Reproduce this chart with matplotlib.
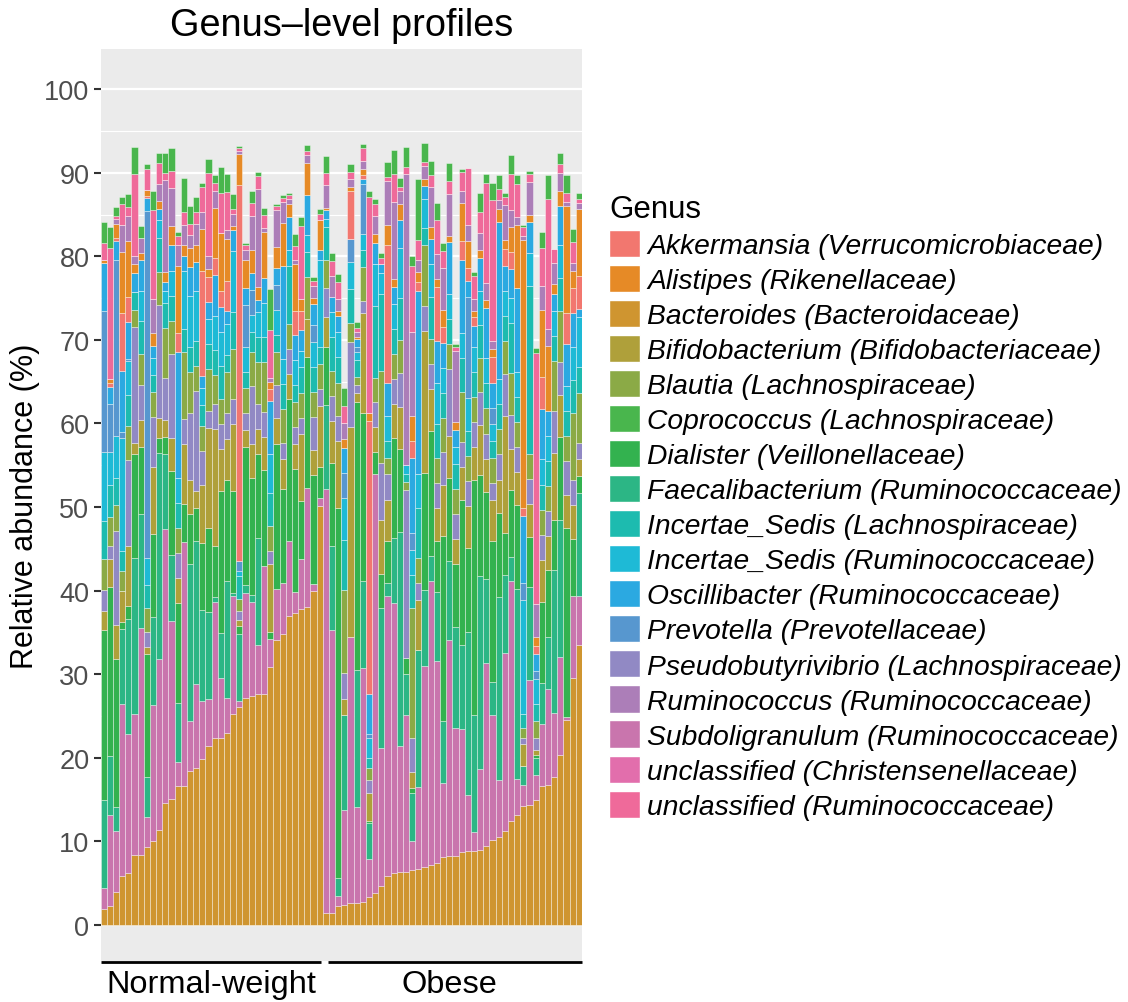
import matplotlib
matplotlib.use("Agg")
import matplotlib.pyplot as plt
from matplotlib.patches import Patch
from matplotlib.transforms import blended_transform_factory
import numpy as np

plt.rcParams['font.family'] = ['Liberation Sans', 'DejaVu Sans']

# ---------------- data (relative abundance, %) ----------------
group_names = ["Normal-weight", "Obese"]
n_normal = 36
n_obese = 42

bacteroides = [1.9, 2.3, 3.9, 5.9, 6.2, 8.4, 8.4, 9.3, 10.0, 11.4, 14.6, 15.1, 16.6, 16.6, 18.4, 18.8, 19.9, 21.4, 22.4, 22.4, 23.0, 25.2, 26.1, 27.2, 27.4, 27.6, 27.6, 30.9, 34.1, 34.8, 37.0, 37.3, 37.8, 38.1, 40.0, 50.1,
               1.5, 1.5, 2.3, 2.4, 2.6, 2.6, 2.8, 3.3, 3.8, 4.7, 5.9, 6.2, 6.3, 6.3, 6.6, 6.7, 7.0, 7.2, 7.4, 8.1, 8.3, 8.3, 8.7, 8.8, 8.9, 9.0, 9.4, 10.2, 10.5, 11.2, 12.5, 13.2, 14.3, 14.4, 15.0, 16.6, 16.7, 17.7, 20.3, 24.5, 29.6, 33.5]
subdoligranulum = [2.5, 10.9, 7.4, 20.6, 16.6, 16.8, 27.1, 3.6, 16.3, 20.4, 32.8, 21.3, 2.9, 29.2, 6.0, 10.0, 6.9, 5.6, 16.3, 7.1, 4.2, 14.2, 0.7, 12.5, 11.2, 5.9, 15.4, 3.3, 6.1, 6.1, 8.9, 2.6, 6.0, 14.2, 0.8, 1.0,
                   50.7, 33.8, 1.2, 11.4, 31.8, 11.5, 27.9, 4.6, 50.1, 16.5, 33.5, 32.3, 15.1, 18.8, 3.5, 9.8, 24.0, 34.0, 24.2, 8.9, 25.8, 15.3, 14.8, 6.8, 2.2, 9.7, 22.0, 14.9, 6.9, 21.3, 28.7, 4.3, 2.4, 14.9, 2.9, 7.4, 11.5, 7.7, 11.8, 0.4, 9.8, 5.9]
faecalibacterium = [10.6, 7.0, 2.8, 8.9, 13.8, 18.7, 13.7, 4.8, 10.5, 24.7, 9.0, 7.9, 7.1, 0, 18.8, 17.1, 10.9, 10.5, 0.6, 5.4, 14.0, 0.3, 8.0, 1.0, 0.9, 12.8, 0, 0, 0, 0, 0, 0, 0, 0, 0, 0,
                    10.0, 10.0, 2.1, 11.3, 0, 16.4, 10.5, 4.3, 0, 16.7, 1.5, 7.8, 25.6, 4.9, 5.7, 16.4, 9.1, 2.9, 8.3, 7.4, 9.4, 12.0, 10.0, 19.5, 14.0, 23.1, 10.0, 4.0, 21.9, 9.4, 2.8, 22.7, 2.3, 11.1, 2.1, 5.0, 6.3, 17.1, 16.3, 0, 0, 12.3]
dialister = [20.3, 20.2, 17.7, 0.9, 1.6, 12.4, 8.0, 14.7, 10.0, 1.8, 2.0, 10.0, 11.9, 4.6, 6.0, 4.0, 8.0, 10.0, 6.0, 17.0, 12.0, 12.2, 1.0, 16.5, 14.0, 10.0, 11.4, 0.8, 17.4, 11.3, 17.0, 14.7, 6.9, 15.6, 13.0, 3.7,
             7.0, 10.0, 44.3, 0, 0.1, 32.1, 20.0, 0.2, 2.7, 4.1, 5.0, 12.0, 10.0, 2.0, 0.6, 0, 14.0, 15.0, 6.0, 22.2, 10.0, 7.6, 17.3, 10.0, 28.1, 12.0, 10.4, 16.8, 10.0, 5.0, 8.0, 10.0, 0, 6.0, 0.3, 9.7, 8.0, 6.0, 10.0, 22.6, 6.8, 2.0]
bifidobacterium = [2.3, 3.4, 4.1, 3.7, 7.1, 1.4, 3.2, 0.9, 8.0, 2.3, 2.0, 4.0, 3.0, 7.1, 4.0, 2.0, 7.0, 12.0, 14.0, 5.0, 5.0, 8.0, 0.7, 2.0, 4.0, 3.0, 4.0, 8.2, 3.0, 3.5, 3.0, 3.0, 8.0, 4.6, 3.0, 7.3,
                   3.5, 5.0, 8.0, 2.0, 25.1, 1.0, 12.0, 3.4, 3.0, 6.4, 5.0, 4.0, 5.0, 0, 1.9, 6.0, 17.0, 5.0, 4.0, 6.0, 5.0, 3.0, 4.0, 5.0, 4.0, 6.0, 4.0, 5.0, 4.0, 14.0, 5.0, 4.0, 2.6, 4.0, 0.7, 5.0, 4.0, 8.0, 5.0, 4.0, 4.0, 2.0]
pseudobutyrivibrio = [2.5, 1.6, 11.2, 0, 10.3, 13.8, 4.2, 1.8, 6.0, 13.6, 5.0, 10.0, 3.0, 3.0, 8.0, 12.0, 4.0, 2.0, 3.0, 3.0, 3.0, 3.0, 1.1, 2.0, 7.0, 3.0, 3.0, 1.5, 4.0, 2.0, 3.0, 2.0, 2.0, 0, 4.0, 2.0,
                      3.5, 3.0, 3.0, 3.0, 10.1, 1.0, 1.5, 1.6, 3.0, 6.9, 3.0, 3.0, 4.0, 20.0, 4.1, 2.0, 3.0, 3.0, 3.0, 4.0, 8.0, 3.0, 3.0, 3.0, 3.0, 4.0, 3.0, 2.0, 3.0, 5.0, 4.0, 3.0, 0.8, 3.0, 1.4, 3.0, 3.0, 5.0, 4.0, 4.0, 3.0, 2.0]
blautia = [3.7, 3.4, 3.2, 2.3, 4.1, 2.1, 3.7, 2.8, 3.0, 3.9, 6.0, 4.0, 3.0, 8.0, 5.0, 3.0, 3.0, 5.0, 3.5, 3.0, 5.0, 6.0, 1.4, 3.0, 4.0, 5.0, 6.0, 3.0, 4.0, 4.0, 3.0, 3.0, 3.0, 5.0, 3.0, 3.0,
           3.4, 3.0, 4.0, 10.0, 2.3, 1.0, 4.0, 1.4, 2.8, 11.0, 2.0, 3.0, 4.0, 1.0, 15.5, 3.0, 7.3, 3.0, 3.0, 4.0, 3.0, 3.0, 6.0, 3.0, 3.0, 4.0, 3.0, 3.0, 3.0, 4.0, 5.0, 3.0, 1.2, 3.0, 2.0, 3.0, 3.0, 6.0, 6.0, 3.0, 8.0, 6.0]
incertae_lachno = [4.5, 3.9, 3.2, 2.5, 3.7, 2.1, 4.0, 2.8, 2.0, 4.1, 3.0, 3.0, 3.0, 2.8, 3.0, 3.0, 2.5, 3.0, 3.0, 4.0, 2.0, 4.4, 2.7, 2.0, 2.5, 3.0, 3.0, 4.0, 2.0, 3.0, 6.9, 2.0, 3.0, 3.0, 3.0, 2.0,
                   3.9, 4.0, 3.0, 6.0, 4.1, 2.0, 2.0, 1.2, 8.7, 9.2, 2.0, 3.0, 5.0, 1.0, 4.0, 6.0, 2.0, 5.0, 4.0, 3.0, 3.0, 3.0, 4.0, 3.0, 3.0, 4.0, 3.0, 2.0, 3.0, 3.0, 6.0, 3.0, 1.7, 20.0, 2.0, 3.0, 3.0, 3.0, 4.0, 3.0, 4.0, 3.0]
incertae_rumino = [8.3, 3.9, 5.0, 13.5, 4.1, 0, 3.5, 3.2, 2.0, 2.1, 1.5, 3.0, 3.0, 6.9, 6.0, 6.0, 2.0, 3.0, 4.0, 4.0, 3.7, 7.3, 0.7, 3.0, 2.0, 3.0, 4.0, 4.6, 3.0, 3.0, 2.0, 3.0, 2.0, 2.0, 3.0, 10.5,
                   1.0, 3.0, 3.0, 5.0, 3.2, 1.0, 2.0, 2.4, 5.0, 2.5, 3.0, 3.0, 6.0, 1.0, 3.0, 4.0, 3.5, 4.0, 5.0, 3.0, 3.0, 2.0, 3.0, 4.0, 3.0, 4.0, 3.0, 2.0, 3.0, 3.0, 3.0, 3.0, 13.6, 4.0, 3.0, 3.0, 3.0, 3.0, 4.0, 3.0, 4.0, 6.0]
prevotella = [16.8, 5.7, 21.1, 0.7, 0.2, 0, 0, 41.5, 0, 0, 0, 0, 0, 0, 0, 0, 0, 0, 0, 0, 0, 0, 1.1, 5.0, 3.0, 0, 0, 0, 3.0, 0, 0, 0, 0, 0, 2.0, 0,
              0, 0, 0, 3.0, 2.8, 0.5, 6.0, 0.4, 0, 0, 0, 0, 0, 0, 2.0, 0, 0, 0, 0, 0, 0, 0, 0, 12.0, 0, 0, 0, 2.0, 0, 0, 0, 0, 2.0, 0, 1.0, 0, 0, 0, 0, 0, 0, 0]
oscillibacter = [5.8, 2.1, 2.2, 7.3, 4.4, 2.3, 3.7, 1.6, 1.5, 1.4, 1.0, 3.0, 15.0, 1.8, 3.5, 3.4, 1.5, 2.0, 5.0, 3.0, 1.5, 2.5, 0, 2.0, 2.0, 1.5, 3.0, 6.4, 2.0, 11.2, 3.9, 3.0, 2.5, 4.8, 2.5, 1.1,
                 1.0, 1.8, 2.0, 3.0, 0, 1.0, 0.5, 4.9, 2.5, 1.1, 4.0, 2.0, 3.4, 0, 9.0, 22.0, 1.5, 3.0, 5.0, 3.0, 6.2, 2.0, 8.7, 2.0, 2.5, 4.0, 6.0, 3.0, 18.8, 3.0, 3.5, 10.0, 8.0, 3.7, 2.0, 6.0, 3.0, 2.0, 4.6, 5.0, 4.0, 1.0]
akkermansia = [0, 0.4, 0.4, 6.9, 3.0, 0, 0, 0.2, 0, 0, 0, 0, 2.3, 0, 0, 0, 12.6, 3.0, 2.0, 2.0, 3.7, 0, 45.0, 0, 0, 0, 0, 1.4, 0, 0, 0, 2.8, 2.3, 0, 0, 0,
               0, 0, 0, 0, 5.7, 0, 0.5, 32.6, 0, 0, 16.5, 0, 0, 0, 2.0, 1.0, 0, 0, 6.4, 2.0, 0, 0, 2.3, 1.5, 1.0, 0, 0, 3.0, 0, 2.0, 2.0, 0, 1.0, 0, 1.0, 3.9, 0, 0, 0, 3.7, 3.0, 4.0]
alistipes = [0.4, 0.5, 1.7, 7.3, 6.7, 1.1, 0.9, 0.7, 1.5, 0.9, 1.2, 2.3, 8.0, 1.4, 2.3, 2.1, 5.0, 1.0, 6.0, 6.9, 5.0, 0.5, 3.7, 3.4, 2.8, 1.5, 5.5, 0.9, 2.5, 5.1, 1.6, 5.7, 1.4, 3.9, 0.7, 3.7,
             0.3, 0, 0.5, 1.0, 0.5, 0.3, 0.7, 0.9, 1.1, 0, 2.3, 1.0, 1.8, 0, 3.0, 1.2, 0.9, 1.4, 1.0, 2.0, 0.7, 1.0, 4.6, 3.2, 0.7, 1.0, 1.0, 1.0, 1.6, 1.1, 3.0, 7.5, 32.0, 0.9, 1.0, 8.0, 7.8, 1.2, 1.8, 12.8, 2.0, 8.0]
ruminococcus = [0, 0, 0.6, 3.2, 3.0, 0.9, 1.8, 0, 4.1, 2.1, 11.0, 4.6, 2.5, 2.3, 1.5, 2.5, 2.0, 1.5, 2.0, 0, 1.0, 1.5, 0.4, 1.2, 4.0, 11.7, 0.5, 0.5, 4.4, 2.5, 0.5, 0.5, 0, 0.9, 1.5, 0,
                2.7, 2.5, 1.5, 2.0, 1.0, 0.5, 1.0, 0, 2.1, 0, 5.3, 9.2, 1.6, 34.8, 10.0, 1.5, 1.5, 4.8, 3.0, 5.0, 5.0, 8.5, 1.4, 2.0, 1.5, 2.0, 2.0, 1.0, 1.0, 4.1, 2.0, 1.0, 0.5, 3.9, 4.0, 2.8, 2.0, 2.5, 2.2, 0.5, 1.0, 0.7]
uncl_christensen = [0, 0, 0, 0, 0, 0, 0, 0, 0, 0, 0, 0, 0, 0, 0, 0, 0, 0, 0, 0, 0, 0, 0, 0, 0, 0, 0, 0, 0, 0, 0, 0, 0, 0, 0, 0,
                    0, 0, 0, 0, 0, 0, 0, 0, 0, 0, 0, 0, 0, 0, 0, 0, 0, 0, 0, 0, 0, 0, 0, 0, 0, 0, 0, 0, 0, 0, 0, 0, 0, 0, 0, 0, 0, 0, 0, 0, 0, 0]
uncl_rumino = [2.0, 15.7, 0.3, 2.5, 1.1, 9.9, 0, 2.5, 10.6, 2.5, 0.9, 2.0, 1.1, 1.6, 1.4, 1.4, 3.0, 10.0, 1.0, 4.8, 4.6, 0.5, 0.3, 0.5, 1.6, 1.6, 1.5, 5.7, 0.5, 0.5, 0.5, 1.6, 8.7, 0.5, 0.5, 0.7,
               1.5, 1.8, 2.0, 2.0, 0.8, 0.5, 1.5, 25.9, 1.4, 0.7, 0.5, 3.4, 0.5, 0.9, 8.0, 2.3, 0.5, 1.4, 4.1, 2.0, 1.6, 0.5, 2.3, 6.8, 2.8, 2.5, 12.0, 16.8, 1.4, 1.0, 4.4, 3.9, 1.1, 1.0, 30.0, 4.6, 15.6, 1.7, 1.0, 1.1, 2.5, 0.5]
coprococcus = [2.5, 2.5, 1.1, 0.9, 1.5, 3.2, 1.4, 0.6, 2.3, 1.2, 2.4, 2.7, 0.5, 4.1, 2.1, 1.8, 0.5, 1.6, 0.9, 3.1, 2.2, 1.8, 0.3, 0.3, 1.4, 0.5, 0.9, 4.9, 0.3, 0.3, 0.3, 1.5, 1.1, 0.7, 0.5, 0.5,
               2.0, 1.0, 1.0, 2.1, 1.0, 0.7, 0.5, 0.7, 0.6, 0.6, 1.8, 2.8, 1.1, 2.4, 1.1, 7.4, 2.3, 1.7, 2.0, 1.0, 2.2, 0.3, 0.3, 0, 0.4, 2.3, 1.0, 2.1, 1.6, 0.5, 2.2, 1.1, 0.2, 0.3, 0.6, 1.9, 2.8, 0, 1.3, 2.1, 1.6, 0.7]

genus_labels = ["Akkermansia (Verrucomicrobiaceae)", "Alistipes (Rikenellaceae)", "Bacteroides (Bacteroidaceae)",
                "Bifidobacterium (Bifidobacteriaceae)", "Blautia (Lachnospiraceae)", "Coprococcus (Lachnospiraceae)",
                "Dialister (Veillonellaceae)", "Faecalibacterium (Ruminococcaceae)", "Incertae_Sedis (Lachnospiraceae)",
                "Incertae_Sedis (Ruminococcaceae)", "Oscillibacter (Ruminococcaceae)", "Prevotella (Prevotellaceae)",
                "Pseudobutyrivibrio (Lachnospiraceae)", "Ruminococcus (Ruminococcaceae)", "Subdoligranulum (Ruminococcaceae)",
                "unclassified (Christensenellaceae)", "unclassified (Ruminococcaceae)"]
genus_values = [akkermansia, alistipes, bacteroides, bifidobacterium, blautia, coprococcus, dialister, faecalibacterium,
                incertae_lachno, incertae_rumino, oscillibacter, prevotella, pseudobutyrivibrio, ruminococcus,
                subdoligranulum, uncl_christensen, uncl_rumino]
genus_colors = ["#F2776F", "#E68A26", "#CF9530", "#AFA03A", "#8BAA46", "#49B64D", "#33B24F", "#2CB685",
                "#1DBBAF", "#1EBAD6", "#2BA9E1", "#5797CF", "#9189C4", "#AC7EB8", "#C975AD", "#E26EAC", "#EF6A9A"]

# stacking order, bottom to top (indices into genus_labels)
stack_order = [2, 14, 7, 6, 3, 12, 4, 8, 9, 11, 10, 0, 1, 13, 15, 16, 5]

n = n_normal + n_obese
for lab, v in zip(genus_labels, genus_values):
    assert len(v) == n, (lab, len(v))

# ---------------- figure ----------------
W, H = 1128, 1003
fig = plt.figure(figsize=(W / 100, H / 100), dpi=100)
px_l, px_r, px_t, px_b = 100.5, 582.0, 50.0, 962.0
ax = fig.add_axes([px_l / W, 1 - px_b / H, (px_r - px_l) / W, (px_b - px_t) / H])
ax.set_facecolor("#EBEBEB")
ax.set_axisbelow(True)

x = np.arange(n)
bottom = np.zeros(n)
for gi in stack_order:
    vals = np.asarray(genus_values[gi], dtype=float)
    ax.bar(x, vals, width=1.0, bottom=bottom, color=genus_colors[gi],
           edgecolor=(1, 1, 1, 0.55), linewidth=0.5, zorder=3)
    bottom += vals

ax.set_xlim(-0.5, n - 0.5)
ax.set_ylim(-4.3, 104.8)
ax.set_yticks(np.arange(0, 101, 10))
ax.set_yticks(np.arange(5, 101, 10), minor=True)
ax.grid(axis='y', which='major', color='white', linewidth=1.6)
ax.grid(axis='y', which='minor', color='white', linewidth=0.8)
ax.grid(axis='x', visible=False)
ax.tick_params(axis='y', which='major', length=5, width=1.5, color='#333333',
               labelsize=19.5, labelcolor='#4D4D4D', pad=3)
ax.tick_params(axis='y', which='minor', length=0)
ax.set_xticks([])
for s in ax.spines.values():
    s.set_visible(False)

ax.set_ylabel("Relative abundance (%)", fontsize=22, color='black')
ax.yaxis.set_label_coords((25 - px_l) / (px_r - px_l), 0.5)
ax.yaxis.label.set_verticalalignment('center')

ax.set_title("Genus\u2013level profiles", fontsize=27.3, pad=10)

# group strips below the panel
tr = blended_transform_factory(ax.transData, ax.transAxes)
ax.plot([-0.5, n_normal - 0.7], [-0.001, -0.001], transform=tr, color='black', lw=2.0,
        clip_on=False, solid_capstyle='butt')
ax.plot([n_normal + 0.4, n - 0.5], [-0.001, -0.001], transform=tr, color='black', lw=2.0,
        clip_on=False, solid_capstyle='butt')
ax.text(17.5, -0.034, group_names[0], transform=tr, ha='center', va='baseline', fontsize=23.4)
ax.text(56.0, -0.034, group_names[1], transform=tr, ha='center', va='baseline', fontsize=23.4)

# legend
handles = [Patch(facecolor=c, edgecolor='white', linewidth=1.0) for c in genus_colors]
leg = ax.legend(handles, genus_labels, loc='upper left',
                bbox_to_anchor=(609 / W, 1 - 195 / H), bbox_transform=fig.transFigure,
                frameon=False, title="Genus", title_fontsize=22.5,
                prop={'size': 20.3, 'style': 'italic'},
                handlelength=1.1, handleheight=1.1, handletextpad=0.25,
                labelspacing=0.21, borderpad=0, borderaxespad=0, alignment='left')

fig.savefig("out.png", dpi=100)
